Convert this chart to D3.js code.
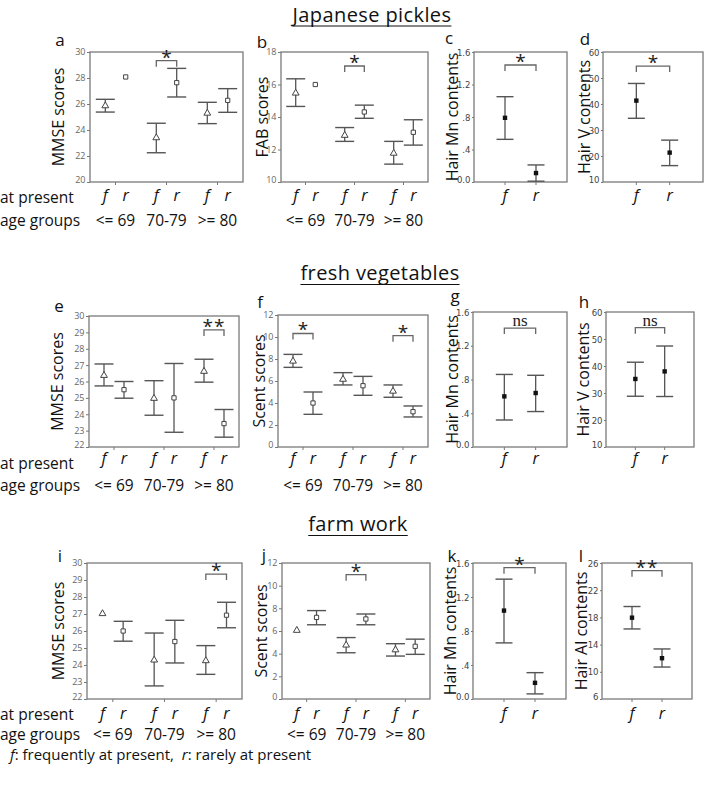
<!DOCTYPE html>
<html><head><meta charset="utf-8">
<script src="https://cdn.jsdelivr.net/npm/d3@7"></script>
<style>body{margin:0;background:#fff} svg{display:block} text{white-space:pre}</style>
</head><body>
<svg id="chart" width="705" height="788"></svg>
<script>
// ---------- DATA ----------
const groups = ["<= 69", "70-79", ">= 80"];
const presence = ["f", "r"];
const sectionTitles = ["Japanese pickles", "fresh vegetables", "farm work"];
const rowLabels = ["at present", "age groups"];
const footF = "f", footFText = ": frequently at present,  ", footR = "r", footRText = ": rarely at present";

// each row: [mean, lower, upper]; order f<=69, r<=69, f70-79, r70-79, f>=80, r>=80
const aMMSE = [[25.9,25.38,26.36],[28.08,null,null],[23.44,22.25,24.52],[27.64,26.54,28.74],[25.33,24.49,26.13],[26.28,25.36,27.18]];
const bFAB  = [[15.5,14.65,16.35],[16.0,null,null],[12.9,12.5,13.35],[14.31,13.92,14.73],[11.8,11.1,12.5],[13.06,12.27,13.83]];
const cMn   = [[0.79,0.525,1.05],[0.11,0.01,0.21]];
const dV    = [[41.3,34.5,47.9],[21.3,16.3,26.1]];
const eMMSE = [[26.4,25.73,27.07],[25.5,24.98,26.0],[25.0,23.94,26.05],[25.0,22.9,27.1],[26.65,25.96,27.36],[23.43,22.6,24.29]];
const fScent= [[7.85,7.24,8.42],[4.0,2.97,5.0],[6.2,5.64,6.76],[5.57,4.7,6.42],[5.12,4.52,5.64],[3.21,2.73,3.73]];
const gMn   = [[0.60,0.32,0.86],[0.64,0.42,0.85]];
const hV    = [[35.2,28.8,41.4],[38.0,28.7,47.4]];
const iMMSE = [[27.05,null,null],[26.0,25.4,26.57],[24.32,22.77,25.88],[25.38,24.12,26.63],[24.28,23.45,25.14],[26.93,26.19,27.69]];
const jScent= [[6.1,null,null],[7.2,6.55,7.8],[4.8,4.08,5.42],[7.06,6.55,7.5],[4.38,3.79,4.88],[4.65,3.94,5.28]];
const kMn   = [[1.04,0.66,1.41],[0.19,0.06,0.31]];
const lAl   = [[17.96,16.3,19.6],[12.0,10.7,13.36]];

// tick values / labels
const ticksMMSE10 = [20, 22, 24, 26, 28, 30];
const ticksFAB    = [10, 12, 14, 16, 18];
const ticksMn     = [0, 0.4, 0.8, 1.2, 1.6];
const ticksMnLab  = ["0.0", ".4", ".8", "1.2", "1.6"];
const ticksV      = [10, 20, 30, 40, 50, 60];
const ticksMMSE8  = [22, 23, 24, 25, 26, 27, 28, 29, 30];
const ticksScent  = [0, 2, 4, 6, 8, 10, 12];
const ticksAl     = [6, 10, 14, 18, 22, 26];

// significance brackets: [index1, index2, value, label]
const aSig = [[2, 3, 29.33, "*"]];
const bSig = [[2, 3, 17.14, "*"]];
const cSig = [[0, 1, 1.44, "*"]];
const dSig = [[0, 1, 54.6, "*"]];
const eSig = [[4, 5, 29.15, "**"]];
const fSig = [[0, 1, 10.32, "*"], [4, 5, 10.12, "*"]];
const gSig = [[0, 1, 1.41, "ns"]];
const hSig = [[0, 1, 54.2, "ns"]];
const iSig = [[4, 5, 29.35, "*"]];
const jSig = [[2, 3, 10.97, "*"]];
const kSig = [[0, 1, 1.545, "*"]];
const lSig = [[0, 1, 24.87, "**"]];

// ---------- LAYOUT ----------
const rows = [
  {title: sectionTitles[0], titleX: 372, titleY: 21.5, presentY: 203, ageY: 226, labY: 201},
  {title: sectionTitles[1], titleX: 380, titleY: 280, presentY: 469, ageY: 491, labY: 464},
  {title: sectionTitles[2], titleX: 358, titleY: 531, presentY: 720, ageY: 740, labY: 719}
];
const panels = [
  {row:0, letter:"a", ytitle:"MMSE scores", data:aMMSE, ticks:ticksMMSE10, sig:aSig, cl:true, box:[90,243,52,182], tx:58, lx:60, ly:46},
  {row:0, letter:"b", ytitle:"FAB scores", data:bFAB, ticks:ticksFAB, sig:bSig, cl:true, box:[281,428,52,182], tx:262, lx:262, ly:48},
  {row:0, letter:"c", ytitle:"Hair Mn contents", data:cMn, ticks:ticksMn, tlab:ticksMnLab, sig:cSig, cl:false, box:[474,567,52,182], tx:452, lx:449, ly:44},
  {row:0, letter:"d", ytitle:"Hair V contents", data:dV, ticks:ticksV, sig:dSig, cl:false, box:[603,703,52,182], tx:584, lx:585, ly:45},
  {row:1, letter:"e", ytitle:"MMSE scores", data:eMMSE, ticks:ticksMMSE8, sig:eSig, cl:true, box:[89,239,316,447], tx:57, lx:59, ly:312},
  {row:1, letter:"f", ytitle:"Scent scores", data:fScent, ticks:ticksScent, sig:fSig, cl:true, box:[278,428,315,447], tx:259, lx:260, ly:308},
  {row:1, letter:"g", ytitle:"Hair Mn contents", data:gMn, ticks:ticksMn, tlab:ticksMnLab, sig:gSig, cl:false, box:[473,567,312,447], tx:452, lx:455, ly:302},
  {row:1, letter:"h", ytitle:"Hair V contents", data:hV, ticks:ticksV, sig:hSig, cl:false, box:[606,694,312,447], tx:583, lx:584, ly:308},
  {row:2, letter:"i", ytitle:"MMSE scores", data:iMMSE, ticks:ticksMMSE8, sig:iSig, cl:true, box:[87,242,563,699], tx:58, lx:60, ly:562},
  {row:2, letter:"j", ytitle:"Scent scores", data:jScent, ticks:ticksScent, sig:jSig, cl:true, box:[282,430,563,699], tx:261, lx:264, ly:561},
  {row:2, letter:"k", ytitle:"Hair Mn contents", data:kMn, ticks:ticksMn, tlab:ticksMnLab, sig:kSig, cl:false, box:[473,566,563,699], tx:450, lx:452, ly:562},
  {row:2, letter:"l", ytitle:"Hair Al contents", data:lAl, ticks:ticksAl, sig:lSig, cl:false, box:[602,692,563,699], tx:581, lx:581, ly:562}
];

const FONT = "'Open Sans', 'Noto Sans', sans-serif";
const NARROW = "'Liberation Sans Narrow', 'DejaVu Sans Condensed', sans-serif";
const svg = d3.select("#chart");

// section titles + row labels
rows.forEach(r => {
  const t = svg.append("text").attr("x", r.titleX).attr("y", r.titleY)
    .attr("text-anchor", "middle").attr("font-family", FONT).attr("font-size", 20)
    .attr("letter-spacing", 0.4).attr("fill", "#111").text(r.title);
  const w = t.node().getComputedTextLength();
  svg.append("line").attr("x1", r.titleX - w/2).attr("x2", r.titleX + w/2)
    .attr("y1", r.titleY + 4.5).attr("y2", r.titleY + 4.5)
    .attr("stroke", "#111").attr("stroke-width", 1.2);
  svg.append("text").attr("x", 0).attr("y", r.presentY).attr("font-family", FONT)
    .attr("font-size", 15.5).attr("fill", "#111").text(rowLabels[0]);
  svg.append("text").attr("x", 0).attr("y", r.ageY).attr("font-family", FONT)
    .attr("font-size", 15.5).attr("fill", "#111").text(rowLabels[1]);
});

panels.forEach(p => {
  const [x0, x1, y0, y1] = p.box;
  const row = rows[p.row];
  const g = svg.append("g");
  const y = d3.scaleLinear().domain(d3.extent(p.ticks)).range([y1, y0]);

  // x positions
  let xs, centers = [];
  if (p.cl) {
    const xg = d3.scalePoint().domain(groups).range([x0, x1]).padding(0.5);
    const off = xg.step() * 0.2;
    xs = [];
    groups.forEach(gr => { centers.push(xg(gr)); xs.push(xg(gr) - off, xg(gr) + off); });
  } else {
    const xp = d3.scalePoint().domain(presence).range([x0, x1]).padding(1);
    xs = presence.map(k => xp(k));
    centers = xs.slice();
  }

  // y axis ticks
  const fmt = p.tlab ? (d => p.tlab[p.ticks.indexOf(d)]) : d3.format("d");
  const ax = d3.axisLeft(y).tickValues(p.ticks).tickSize(p.cl ? 3 : 2).tickPadding(1.5).tickFormat(fmt);
  const axg = g.append("g").attr("transform", `translate(${x0},0)`).call(ax);
  axg.select(".domain").remove();
  axg.selectAll("line").attr("stroke", "#777");
  axg.selectAll("text").attr("font-family", p.cl ? FONT : NARROW)
    .attr("font-size", p.cl ? 9 : 9.5).attr("fill", p.cl ? "#666" : "#444");
  // lowest label sits slightly above the axis bottom (as in the original)
  axg.selectAll(".tick").filter(d => d === d3.min(p.ticks)).select("text").attr("dy", "0.0em");

  // bottom small ticks
  centers.forEach(c => g.append("line").attr("x1", c).attr("x2", c).attr("y1", y1).attr("y2", y1 + 3)
    .attr("stroke", "#777").attr("stroke-width", 1));

  // box
  g.append("rect").attr("x", x0).attr("y", y0).attr("width", x1 - x0).attr("height", y1 - y0)
    .attr("fill", "none").attr("stroke", "#7a7a7a").attr("stroke-width", 1.3);

  // error bars
  const cap = p.cl ? 9.5 : 8.5;
  p.data.forEach((d, i) => {
    const [m, lo, hi] = d;
    if (lo != null && hi != null) {
      const x = xs[i];
      g.append("line").attr("x1", x).attr("x2", x).attr("y1", y(lo)).attr("y2", y(hi))
        .attr("stroke", "#555").attr("stroke-width", 1.3);
      [lo, hi].forEach(v => g.append("line").attr("x1", x - cap).attr("x2", x + cap)
        .attr("y1", y(v)).attr("y2", y(v)).attr("stroke", "#555").attr("stroke-width", 1.4));
    }
  });
  // markers
  p.data.forEach((d, i) => {
    const x = xs[i], yy = y(d[0]);
    if (p.cl) {
      const isF = i % 2 === 0;
      const sym = d3.symbol().type(isF ? d3.symbolTriangle : d3.symbolSquare).size(isF ? 20 : 18);
      g.append("path").attr("d", sym()).attr("transform", `translate(${x},${yy + (isF ? 0.5 : 0)})`)
        .attr("fill", "#fff").attr("stroke", "#444").attr("stroke-width", 1);
    } else {
      g.append("rect").attr("x", x - 2.2).attr("y", yy - 2.2).attr("width", 4.4).attr("height", 4.4)
        .attr("fill", "#111");
    }
  });

  // significance brackets
  p.sig.forEach(s => {
    const [i1, i2, v, lab] = s;
    const xa = xs[i1], xb = xs[i2], yb = y(v);
    g.append("path").attr("d", `M${xa},${yb + 6}V${yb}H${xb}V${yb + 6}`)
      .attr("fill", "none").attr("stroke", "#666").attr("stroke-width", 1.3);
    const mid = (xa + xb) / 2;
    if (lab === "ns") {
      g.append("text").attr("x", mid).attr("y", yb - 2).attr("text-anchor", "middle")
        .attr("font-family", "'Liberation Serif', 'DejaVu Serif', serif").attr("font-size", 17)
        .attr("fill", "#222").text(lab);
    } else {
      g.append("text").attr("x", mid).attr("y", yb + 3).attr("text-anchor", "middle")
        .attr("font-family", FONT).attr("font-size", 19).attr("fill", "#222")
        .attr("letter-spacing", lab.length > 1 ? 1 : 0).text(lab);
    }
  });

  // y-axis title
  g.append("text").attr("transform", `translate(${p.tx},${(y0 + y1) / 2}) rotate(-90)`)
    .attr("text-anchor", "middle").attr("dominant-baseline", "central")
    .attr("font-family", FONT).attr("font-size", 16).attr("fill", "#111").text(p.ytitle);

  // panel letter
  g.append("text").attr("x", p.lx).attr("y", p.ly).attr("text-anchor", "middle")
    .attr("font-family", FONT).attr("font-size", 17).attr("fill", "#111").text(p.letter);

  // f / r labels
  xs.forEach((x, i) => g.append("text").attr("x", x).attr("y", row.labY).attr("text-anchor", "middle")
    .attr("font-family", FONT).attr("font-style", "italic").attr("font-size", 16).attr("fill", "#111")
    .text(presence[i % 2]));

  // age group labels
  if (p.cl) {
    centers.forEach((c, i) => g.append("text").attr("x", c).attr("y", row.ageY).attr("text-anchor", "middle")
      .attr("font-family", FONT).attr("font-size", 15.5).attr("fill", "#111").text(groups[i]));
  }
});

// footnote
const ft = svg.append("text").attr("x", 10).attr("y", 760).attr("font-family", FONT)
  .attr("font-size", 15).attr("fill", "#111");
ft.append("tspan").attr("font-style", "italic").text(footF);
ft.append("tspan").text(footFText);
ft.append("tspan").attr("font-style", "italic").text(footR);
ft.append("tspan").text(footRText);
</script>
</body></html>
